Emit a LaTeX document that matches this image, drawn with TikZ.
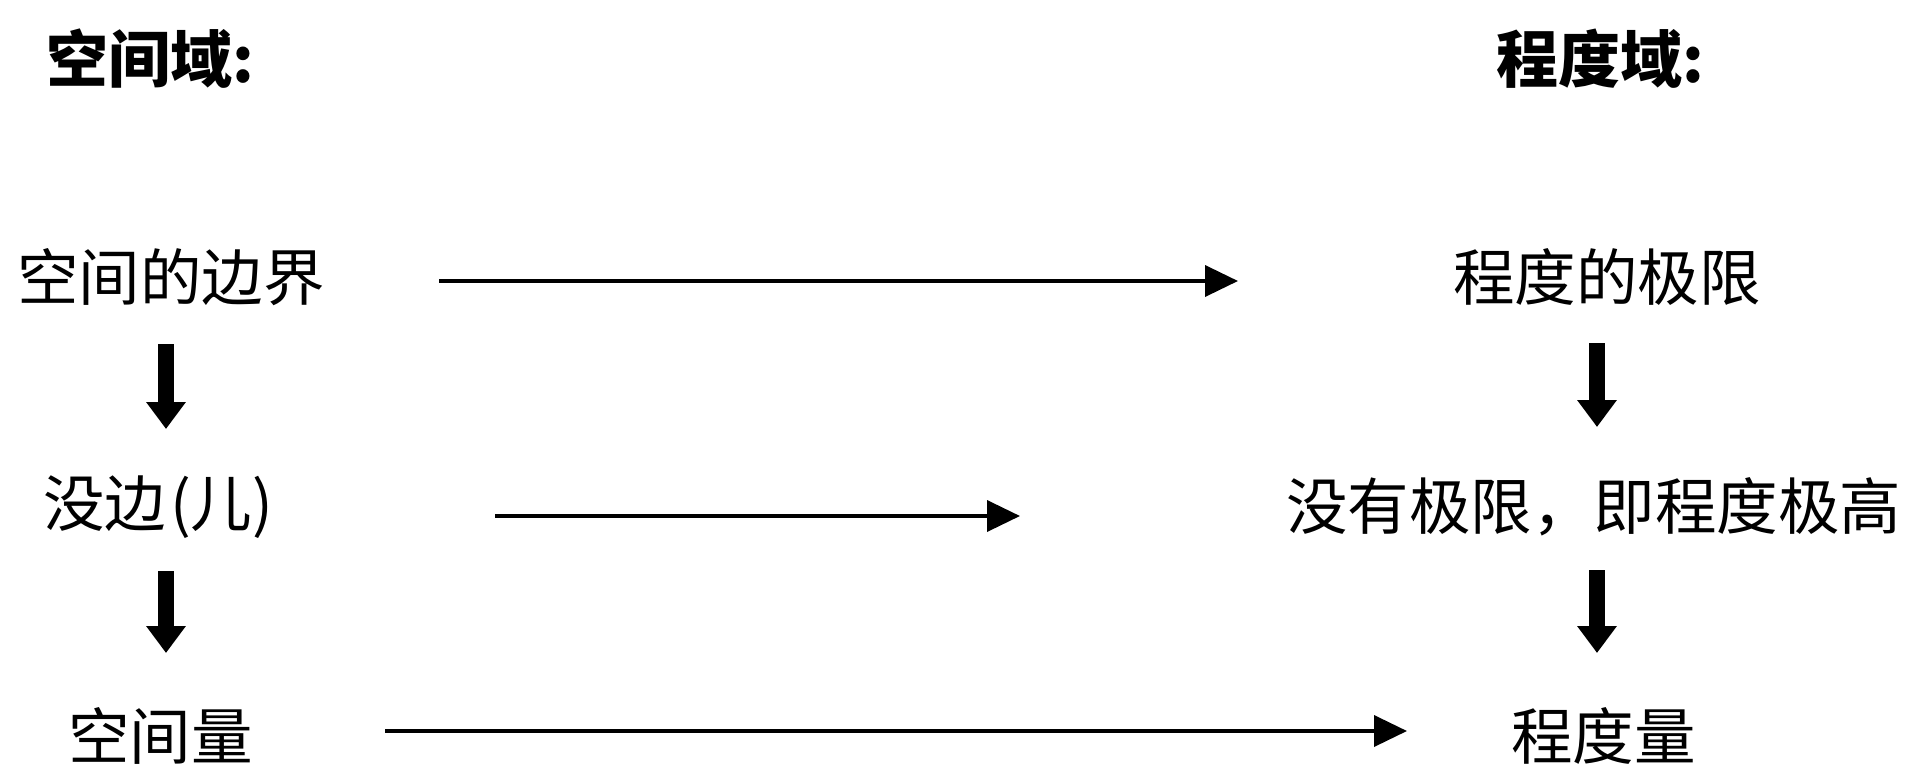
\documentclass[tikz,border=0pt]{standalone}
\usepackage{fontspec}
\setmainfont{Noto Sans CJK SC}
\usetikzlibrary{arrows.meta,calc}
\tikzset{
  lbl/.style={anchor=west,inner sep=0pt,font=\fontsize{61.5}{61.5}\selectfont},
  hdr/.style={anchor=west,inner sep=0pt,font=\fontsize{62}{62}\selectfont\bfseries},
  harrow/.style={line width=3.7pt,-{Triangle[width=31pt,length=33pt]}},
  varrow/.style={line width=16pt,-{Triangle[width=38pt,length=27pt]}}
}
\begin{document}
\begin{tikzpicture}[x=1pt,y=-1pt]
\fill[white] (0,0) rectangle (1927,780);
\useasboundingbox (0,0) rectangle (1927,780);
\coordinate (colL) at (166,0);
\coordinate (colR) at (1597,0);
\node[hdr] (h1) at (46,59) {空间域:};
\node[hdr] (h2) at (1496,59) {程度域:};
\node[lbl] (a1) at (17,277) {空间的边界};
\node[lbl] (b1) at (1453,277) {程度的极限};
\node[lbl] (a2) at (43,507) {没边\kern4pt(儿)\kern4pt};
\node[lbl] (b2) at (1286,507) {没有极限，即程度极高};
\node[lbl] (a3) at (68,736) {空间量};
\node[lbl] (b3) at (1511,736) {程度量};
\draw[harrow] ($(a1.west)+(422,4)$) -- ($(b1.west)+(-215,4)$);
\draw[harrow] ($(a2.west)+(452,9)$) -- ($(b2.west)+(-266,9)$);
\draw[harrow] ($(a3.west)+(317,-5)$) -- ($(b3.west)+(-104,-5)$);
\draw[varrow] ($(a1.west -| colL)+(0,67)$) -- ($(a2.west -| colL)+(0,-78)$);
\draw[varrow] ($(a2.west -| colL)+(0,64)$) -- ($(a3.west -| colL)+(0,-83)$);
\draw[varrow] ($(b1.west -| colR)+(0,66)$) -- ($(b2.west -| colR)+(0,-80)$);
\draw[varrow] ($(b2.west -| colR)+(0,63)$) -- ($(b3.west -| colR)+(0,-83)$);
\end{tikzpicture}
\end{document}
